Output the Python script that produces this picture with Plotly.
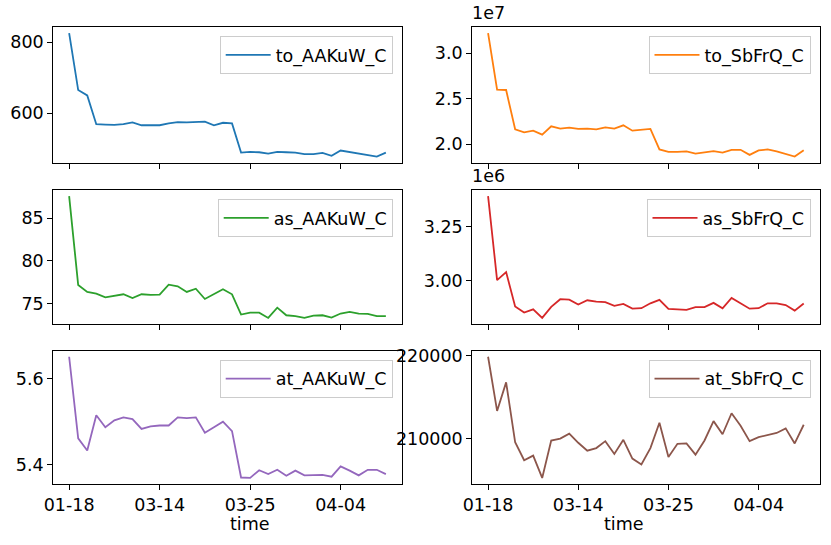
import plotly.graph_objects as go
from plotly.subplots import make_subplots

# 36 samples, only some dates are labelled on the axis
idx = list(range(36))
tick_pos = [0, 10, 20, 30]
tick_labels = ['01-18', '03-14', '03-25', '04-04']

to_AAKuW_C = [825, 665, 650, 569, 568, 567, 569, 574, 566, 566, 566, 571,
              575, 574, 574, 576, 566, 573, 571, 489, 491, 490, 486, 491,
              490, 489, 485, 485, 488, 480, 495, 491, 487, 483, 478, 489]
to_SbFrQ_C = [32220000, 26000000, 25960000, 21630000, 21300000, 21480000,
              21040000, 21960000, 21700000, 21810000, 21670000, 21700000,
              21630000, 21850000, 21700000, 22070000, 21480000, 21590000,
              21670000, 19410000, 19150000, 19150000, 19190000, 18960000,
              19070000, 19220000, 19070000, 19370000, 19370000, 18810000,
              19300000, 19410000, 19190000, 18890000, 18630000, 19330000]
as_AAKuW_C = [87.56, 77.17, 76.36, 76.16, 75.74, 75.93, 76.09, 75.66, 76.09,
              76.01, 76.05, 77.21, 77.02, 76.36, 76.74, 75.54, 76.09, 76.67,
              76.09, 73.72, 73.95, 73.95, 73.33, 74.53, 73.64, 73.53, 73.33,
              73.60, 73.64, 73.37, 73.84, 74.03, 73.84, 73.80, 73.53, 73.53]
as_SbFrQ_C = [3393500, 3003000, 3040000, 2880000, 2852000, 2867000, 2827000,
              2878000, 2914000, 2912000, 2889000, 2909000, 2903000, 2900000,
              2883000, 2892000, 2870000, 2872000, 2895000, 2911000, 2869000,
              2867000, 2864000, 2877000, 2877000, 2897000, 2872000, 2920000,
              2895000, 2870000, 2872000, 2895000, 2895000, 2887000, 2861000,
              2894000]
at_AAKuW_C = [5.651, 5.461, 5.433, 5.515, 5.487, 5.503, 5.510, 5.506, 5.483,
              5.489, 5.491, 5.491, 5.510, 5.508, 5.510, 5.474, 5.487, 5.500,
              5.478, 5.370, 5.369, 5.387, 5.378, 5.388, 5.374, 5.386, 5.375,
              5.375, 5.376, 5.372, 5.396, 5.386, 5.375, 5.388, 5.388, 5.378]
at_SbFrQ_C = [219881, 213359, 216798, 209604, 207430, 207983, 205295, 209801,
              210038, 210631, 209525, 208576, 208892, 209722, 208181, 209880,
              207627, 206916, 208892, 211936, 207825, 209406, 209446, 208102,
              209801, 212134, 210552, 213082, 211580, 209722, 210196, 210473,
              210710, 211264, 209446, 211699]

series = [
    ('to_AAKuW_C', to_AAKuW_C, '#1f77b4', [600, 800], ['600', '800']),
    ('to_SbFrQ_C', to_SbFrQ_C, '#ff7f0e', [2.0e7, 2.5e7, 3.0e7], ['2.0', '2.5', '3.0']),
    ('as_AAKuW_C', as_AAKuW_C, '#2ca02c', [75, 80, 85], ['75', '80', '85']),
    ('as_SbFrQ_C', as_SbFrQ_C, '#d62728', [3.0e6, 3.25e6], ['3.00', '3.25']),
    ('at_AAKuW_C', at_AAKuW_C, '#9467bd', [5.4, 5.6], ['5.4', '5.6']),
    ('at_SbFrQ_C', at_SbFrQ_C, '#8c564b', [210000, 220000], ['210000', '220000']),
]

W, H = 831, 545
col_px = [(53.3, 401.7), (472.3, 819.5)]
row_px = [(27.0, 162.7), (190.0, 324.0), (350.7, 484.0)]

FONT = 'DejaVu Sans'
FS = 17.5

fig = make_subplots(rows=3, cols=2)

for i, (name, vals, color, tv, tt) in enumerate(series):
    r, c = i // 2, i % 2
    n = i + 1
    leg = 'legend' if n == 1 else 'legend%d' % n
    fig.add_trace(go.Scatter(x=idx, y=vals, mode='lines', name=name,
                             line=dict(color=color, width=1.8),
                             legend=leg, showlegend=True),
                  row=r + 1, col=c + 1)

    x0, x1 = col_px[c]
    y0, y1 = row_px[r]
    lo, hi = min(vals), max(vals)
    pad = (hi - lo) * 0.05
    ax_common = dict(showline=True, linecolor='black', linewidth=1.2, mirror=True,
                     ticks='outside', ticklen=5, tickwidth=1.2, tickcolor='black',
                     showgrid=False, zeroline=False, automargin=False,
                     tickfont=dict(family=FONT, size=FS, color='black'))
    xname = 'xaxis' if n == 1 else 'xaxis%d' % n
    yname = 'yaxis' if n == 1 else 'yaxis%d' % n
    fig.layout[xname].update(domain=[x0 / W, x1 / W], range=[-1.75, 36.75],
                             tickvals=tick_pos, ticktext=tick_labels,
                             showticklabels=(r == 2), **ax_common)
    fig.layout[yname].update(domain=[1 - y1 / H, 1 - y0 / H], range=[lo - pad, hi + pad],
                             tickvals=tv, ticktext=tt, **ax_common)
    if r == 2:
        fig.add_annotation(text='time', xref='paper', yref='paper',
                           x=(x0 + x1) / 2 / W, y=1 - 524 / H, yanchor='middle',
                           showarrow=False, font=dict(family=FONT, size=FS, color='black'))

    fig.layout[leg] = dict(x=(x1 - 9) / W, y=1 - (y0 + 9) / H, xanchor='right', yanchor='top',
                           bgcolor='rgba(255,255,255,0.8)', bordercolor='#cccccc', borderwidth=1,
                           itemwidth=45,
                           font=dict(family=FONT, size=FS, color='black'))

# scale factors shown above the right-hand axes
for txt, ytop in [('1e7', 27.0), ('1e6', 190.0)]:
    fig.add_annotation(text=txt, xref='paper', yref='paper', x=470 / W, y=1 - (ytop - 2) / H,
                       xanchor='left', yanchor='bottom', showarrow=False,
                       font=dict(family=FONT, size=FS, color='black'))

fig.update_layout(width=W, height=H, margin=dict(l=0, r=0, t=0, b=0),
                  plot_bgcolor='white', paper_bgcolor='white',
                  font=dict(family=FONT, size=FS, color='black'))

# the page has a default body margin; drop it so the figure starts at the corner
fig.write_html("out.html", config={'displayModeBar': False},
               post_script="document.body.style.margin='0';")
